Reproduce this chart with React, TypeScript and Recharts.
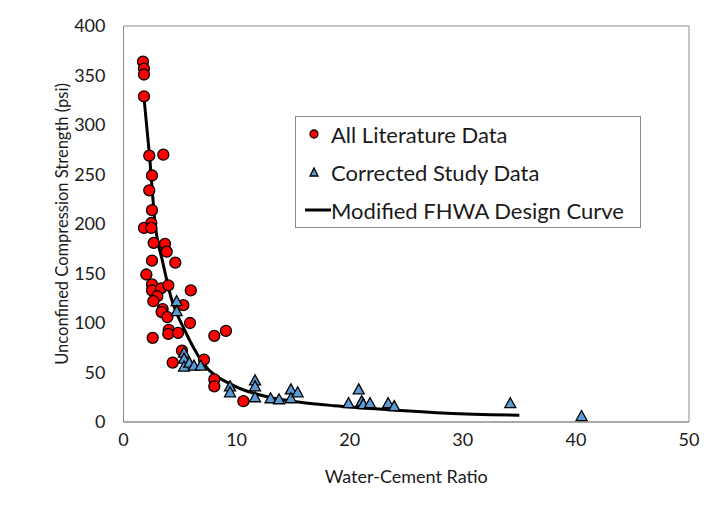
import {
  ComposedChart, Scatter, Line, XAxis, YAxis, ReferenceArea, Label,
} from "recharts";

const FONT = "Lato, 'Open Sans', sans-serif";
const TEXT = "#1a1a1a";
const FRAME = "#8c8c8c";
const RED = "#ff0000";
const BLUE = "#5b9bd5";

// All literature data (w/c ratio, psi)
const litX = [1.72, 1.81, 1.81, 1.81, 2.28, 3.52, 2.52, 2.28, 2.52, 2.46, 1.81, 2.46, 2.67, 3.67, 3.82, 2.52, 4.58, 2.02, 2.52, 2.52, 3.32, 3.96, 2.99, 2.64, 3.46, 3.37, 3.88, 5.29, 5.95, 4.0, 3.96, 4.82, 5.88, 2.58, 8.03, 9.06, 5.17, 4.35, 7.12, 8.03, 8.03, 10.6];
const litY = [364, 357, 351, 329, 269, 270, 249, 234, 214, 201, 196, 196, 181, 180, 172, 163, 161, 149, 139, 133, 135, 138, 127, 122, 114, 111, 106, 118, 133, 93, 89, 90, 100, 85, 87, 92, 72, 60, 63, 43, 36, 21];

// corrected study data
const studyX = [4.7, 4.7, 5.35, 5.35, 5.35, 5.82, 6.23, 6.83, 9.42, 9.42, 11.63, 11.63, 11.63, 13.0, 13.75, 14.8, 14.8, 15.4, 19.9, 20.8, 21.06, 21.2, 21.8, 23.4, 23.94, 34.2, 40.5];
const studyY = [122, 112, 70, 64, 56, 60, 57, 57, 36, 30, 42, 36, 25, 24, 23, 33, 24, 30, 19, 33, 21, 18, 19, 19, 16, 19, 6];

// modified FHWA design curve
const curveX = [1.8, 2.3, 2.8, 3.5, 4.2, 5.4, 7.0, 9.7, 12.7, 15.6, 18.6, 21.5, 24.5, 28.6, 35];
const curveY = [329, 269, 200, 160, 126, 93, 60, 37, 25.5, 20, 16.5, 14, 11.5, 8.8, 6.8];

const xTicks = [0, 10, 20, 30, 40, 50];
const yTicks = [0, 50, 100, 150, 200, 250, 300, 350, 400];

const lit = litX.map((x, i) => ({ x, y: litY[i] }));
const study = studyX.map((x, i) => ({ x, y: studyY[i] }));
const curve = curveX.map((x, i) => ({ x, y: curveY[i] }));

const Dot = (p: any) => (
  <circle cx={p.cx} cy={p.cy} r={5.5} fill={RED} stroke="#000" strokeWidth={1.3} />
);
const Tri = (p: any) => (
  <path
    d={`M${p.cx},${p.cy - 5.5} L${p.cx + 5.5},${p.cy + 4.5} L${p.cx - 5.5},${p.cy + 4.5} Z`}
    fill={BLUE} stroke="#000" strokeWidth={1.3}
  />
);

const AX_FS = 18;
const LG_FS = 22;

const legendRow = { display: "flex", alignItems: "center", height: 38 } as const;

function LegendBox() {
  return (
    <div style={{
      position: "absolute", left: 295, top: 116, width: 346, height: 112,
      border: `1px solid ${FRAME}`, background: "#fff", boxSizing: "border-box",
      paddingLeft: 9, fontFamily: FONT, fontSize: LG_FS, color: TEXT,
    }}>
      <div style={{ ...legendRow, marginTop: -2 }}>
        <svg width={26} height={14}><circle cx={9} cy={7} r={4} fill={RED} stroke="#000" strokeWidth={1.3} /></svg>
        <span>All Literature Data</span>
      </div>
      <div style={legendRow}>
        <svg width={26} height={14}><path d="M9,3 L13,11 L5,11 Z" fill={BLUE} stroke="#000" strokeWidth={1.3} /></svg>
        <span>Corrected Study Data</span>
      </div>
      <div style={legendRow}>
        <svg width={26} height={14}><line x1={0} y1={7} x2={26} y2={7} stroke="#000" strokeWidth={3} /></svg>
        <span>Modified FHWA Design Curve</span>
      </div>
    </div>
  );
}

export default function App() {
  const tick = { fill: TEXT, fontSize: AX_FS, fontFamily: FONT };
  return (
    <div style={{ position: "absolute", left: 0, top: 0, width: 710, height: 509, background: "#fff" }}>
      <ComposedChart width={710} height={509} margin={{ top: 26, right: 21, bottom: 0, left: 0 }}>
        <XAxis
          dataKey="x" type="number" domain={[0, 50]} ticks={xTicks} allowDuplicatedCategory={false}
          height={87} tickLine={false} tickSize={0} tickMargin={11} tick={tick}
          axisLine={{ stroke: FRAME }}
        >
          <Label value="Water-Cement Ratio" position="insideTop" offset={48} fill={TEXT} fontSize={AX_FS} fontFamily={FONT} />
        </XAxis>
        <YAxis
          dataKey="y" type="number" domain={[0, 400]} ticks={yTicks}
          width={123.5} tickLine={false} tickSize={0} tickMargin={18} tick={tick}
          axisLine={{ stroke: FRAME }}
        >
          <Label value="Unconfined Compression Strength (psi)" angle={-90} position="insideLeft" offset={62}
            style={{ textAnchor: "middle" }} fill={TEXT} fontSize={16.5} fontFamily={FONT} />
        </YAxis>
        <ReferenceArea x1={0} x2={50} y1={0} y2={400} fill="none" stroke={FRAME} strokeWidth={1} />
        <Line data={curve} dataKey="y" type="monotone" stroke="#000" strokeWidth={3} dot={false}
          activeDot={false} legendType="none" isAnimationActive={false} />
        <Scatter data={lit} dataKey="y" shape={Dot} isAnimationActive={false} />
        <Scatter data={study} dataKey="y" shape={Tri} isAnimationActive={false} />
      </ComposedChart>
      <LegendBox />
    </div>
  );
}
